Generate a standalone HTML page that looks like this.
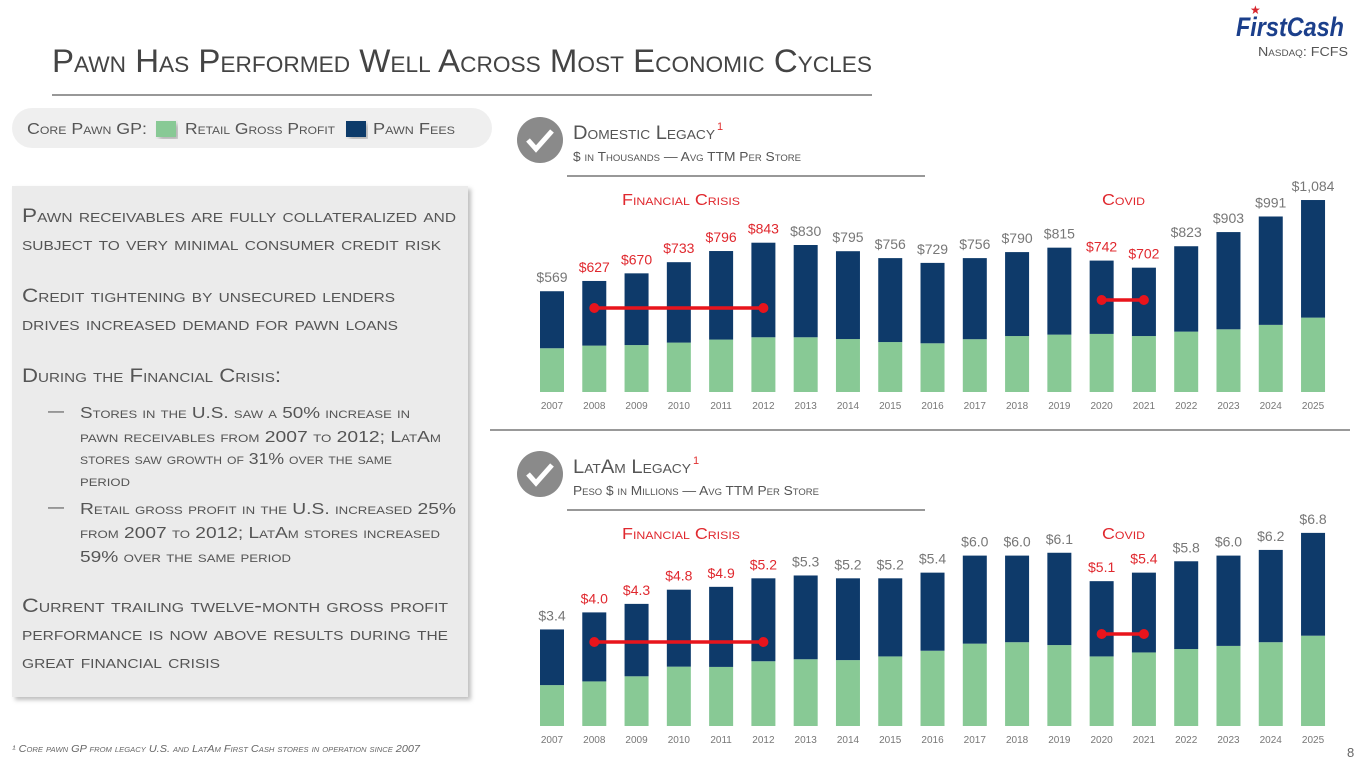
<!DOCTYPE html>
<html><head><meta charset="utf-8">
<style>
html,body{margin:0;padding:0;background:#fff;}
svg{display:block;font-family:"Liberation Sans",sans-serif;}
.sc{font-variant:small-caps;}
</style></head>
<body>
<svg id="s" width="1365" height="768" viewBox="0 0 1365 768" xmlns="http://www.w3.org/2000/svg">
<defs>
<filter id="sh" x="-5%" y="-5%" width="115%" height="115%"><feDropShadow dx="3" dy="3" stdDeviation="2" flood-color="#000" flood-opacity="0.25"/></filter>
</defs>
<text class="sc" x="52" y="72" font-size="32" fill="#444" textLength="820" lengthAdjust="spacingAndGlyphs">Pawn Has Performed Well Across Most Economic Cycles</text>
<line x1="52" y1="95" x2="872" y2="95" stroke="#777" stroke-width="1.5"/>
<g>
<text x="1236" y="36" font-size="27" font-weight="bold" font-style="italic" fill="#1b3f8b" textLength="108" lengthAdjust="spacingAndGlyphs">FirstCash</text>
<text x="1250" y="14" font-size="12" fill="#d7262e">★</text>
<text class="sc" x="1258" y="56" font-size="13" fill="#555" textLength="90" lengthAdjust="spacingAndGlyphs">Nasdaq: FCFS</text>
</g>
<g>
<rect x="12" y="108" width="480" height="40" rx="20" fill="#efefef"/>
<text class="sc" x="27" y="134" font-size="16" fill="#555" textLength="120" lengthAdjust="spacingAndGlyphs">Core Pawn GP:</text>
<rect x="156" y="121" width="20" height="16" fill="#88c995" filter="url(#sh)"/>
<text class="sc" x="185" y="134" font-size="16" fill="#555" textLength="150" lengthAdjust="spacingAndGlyphs">Retail Gross Profit</text>
<rect x="346" y="121" width="20" height="16" fill="#0e3a6a" filter="url(#sh)"/>
<text class="sc" x="373" y="134" font-size="16" fill="#555" textLength="82" lengthAdjust="spacingAndGlyphs">Pawn Fees</text>
</g>
<g class="sc" fill="#555">
<rect x="12" y="186" width="456" height="511" fill="#ebebeb" filter="url(#sh)"/>
<text x="22" y="222" font-size="19" textLength="434" lengthAdjust="spacingAndGlyphs">Pawn receivables are fully collateralized and</text>
<text x="22" y="250" font-size="19" textLength="419" lengthAdjust="spacingAndGlyphs">subject to very minimal consumer credit risk</text>
<text x="22" y="302" font-size="19" textLength="373" lengthAdjust="spacingAndGlyphs">Credit tightening by unsecured lenders</text>
<text x="22" y="330" font-size="19" textLength="376" lengthAdjust="spacingAndGlyphs">drives increased demand for pawn loans</text>
<text x="22" y="382" font-size="19" textLength="259" lengthAdjust="spacingAndGlyphs">During the Financial Crisis:</text>
<text x="48" y="416" font-size="16">—</text>
<text x="80" y="418" font-size="16" textLength="330" lengthAdjust="spacingAndGlyphs">Stores in the U.S. saw a 50% increase in</text>
<text x="80" y="442" font-size="16" textLength="361" lengthAdjust="spacingAndGlyphs">pawn receivables from 2007 to 2012; LatAm</text>
<text x="80" y="464" font-size="16" textLength="312" lengthAdjust="spacingAndGlyphs">stores saw growth of 31% over the same</text>
<text x="80" y="486" font-size="16" textLength="50" lengthAdjust="spacingAndGlyphs">period</text>
<text x="48" y="512" font-size="16">—</text>
<text x="80" y="514" font-size="16" textLength="376" lengthAdjust="spacingAndGlyphs">Retail gross profit in the U.S. increased 25%</text>
<text x="80" y="538" font-size="16" textLength="360" lengthAdjust="spacingAndGlyphs">from 2007 to 2012; LatAm stores increased</text>
<text x="80" y="562" font-size="16" textLength="211" lengthAdjust="spacingAndGlyphs">59% over the same period</text>
<text x="22" y="612" font-size="19" textLength="426" lengthAdjust="spacingAndGlyphs">Current trailing twelve-month gross profit</text>
<text x="22" y="640" font-size="19" textLength="426" lengthAdjust="spacingAndGlyphs">performance is now above results during the</text>
<text x="22" y="668" font-size="19" textLength="198" lengthAdjust="spacingAndGlyphs">great financial crisis</text>
</g>
<g>
<circle cx="540" cy="140" r="23" fill="#8a8a8a"/>
<path d="M528 140 l8 9 l16 -18" stroke="#fff" stroke-width="5" fill="none"/>
<text class="sc" x="573" y="139" font-size="19" fill="#555" textLength="142" lengthAdjust="spacingAndGlyphs">Domestic Legacy</text>
<text x="717" y="130" font-size="11" fill="#e03030">1</text>
<text class="sc" x="573" y="161" font-size="13" fill="#555" textLength="228" lengthAdjust="spacingAndGlyphs">$ in Thousands — Avg TTM Per Store</text>
<line x1="567" y1="176" x2="925" y2="176" stroke="#777" stroke-width="1.5"/>
</g>
<line x1="490" y1="430" x2="1350" y2="430" stroke="#999" stroke-width="2"/>
<g>
<circle cx="540" cy="474" r="23" fill="#8a8a8a"/>
<path d="M528 474 l8 9 l16 -18" stroke="#fff" stroke-width="5" fill="none"/>
<text class="sc" x="573" y="473" font-size="19" fill="#555" textLength="118" lengthAdjust="spacingAndGlyphs">LatAm Legacy</text>
<text x="693" y="464" font-size="11" fill="#e03030">1</text>
<text class="sc" x="573" y="495" font-size="13" fill="#555" textLength="246" lengthAdjust="spacingAndGlyphs">Peso $ in Millions — Avg TTM Per Store</text>
<line x1="567" y1="510" x2="925" y2="510" stroke="#777" stroke-width="1.5"/>
</g>
<g id="chart1"></g>
<g id="chart2"></g>
<text class="sc" x="12" y="752" font-size="10" font-style="italic" fill="#666" textLength="408" lengthAdjust="spacingAndGlyphs">¹ Core pawn GP from legacy U.S. and LatAm First Cash stores in operation since 2007</text>
<text x="1347" y="757" font-size="13" fill="#666">8</text>
</svg>
<script>
const years = ["2007","2008","2009","2010","2011","2012","2013","2014","2015","2016","2017","2018","2019","2020","2021","2022","2023","2024","2025"];
const domTotal = [569,627,670,733,796,843,830,795,756,729,756,790,815,742,702,823,903,991,1084];
const domRetail = [247,262,265,279,296,309,309,299,282,275,298,316,324,328,316,341,354,379,420];
const domLabels = ["$569","$627","$670","$733","$796","$843","$830","$795","$756","$729","$756","$790","$815","$742","$702","$823","$903","$991","$1,084"];
const latTotal = [3.4,4.0,4.3,4.8,4.9,5.2,5.3,5.2,5.2,5.4,6.0,6.0,6.1,5.1,5.4,5.8,6.0,6.2,6.8];
const latRetail = [1.44,1.57,1.75,2.09,2.08,2.28,2.35,2.32,2.45,2.65,2.90,2.95,2.85,2.45,2.59,2.71,2.82,2.95,3.18];
const latLabels = ["$3.4","$4.0","$4.3","$4.8","$4.9","$5.2","$5.3","$5.2","$5.2","$5.4","$6.0","$6.0","$6.1","$5.1","$5.4","$5.8","$6.0","$6.2","$6.8"];
const crisisYears = ["2008","2009","2010","2011","2012"];
const covidYears = ["2020","2021"];
const NS="http://www.w3.org/2000/svg";
function mk(tag, attrs, parent, txt){const e=document.createElementNS(NS,tag);for(const k in attrs)e.setAttribute(k,attrs[k]);if(txt!==undefined)e.textContent=txt;parent.appendChild(e);return e;}
function draw(g, total, retail, labels, base, pxPerUnit, crisisY, covidY, headerY){
  const x = i => 552 + i*42.28;
  const y = v => base - v*pxPerUnit;
  const bw = 24;
  years.forEach((yr,i)=>{
    const r = mk('rect',{x:x(i)-bw/2,y:y(retail[i]),width:bw,height:base-y(retail[i]),fill:'#88c995'},g);
    
    
    const f = mk('rect',{x:x(i)-bw/2,y:y(total[i]),width:bw,height:y(retail[i])-y(total[i]),fill:'#0e3a6a'},g);
    
    
    const red = crisisYears.includes(yr)||covidYears.includes(yr);
    const t = mk('text',{x:x(i),y:y(total[i])-9,'font-size':14,'text-anchor':'middle',fill:red?'#e0282e':'#777'},g,labels[i]);
    
    
    const yl = mk('text',{x:x(i),y:base+17,'font-size':10,'text-anchor':'middle',fill:'#777'},g,yr);
    
    
  });
  function period(list, ly, label, lx, lw){
    const i0=years.indexOf(list[0]), i1=years.indexOf(list[list.length-1]);
    const ln = mk('line',{x1:x(i0),y1:ly,x2:x(i1),y2:ly,stroke:'#e8141c','stroke-width':3.5},g);
    
    
    mk('circle',{cx:x(i0),cy:ly,r:5,fill:'#e8141c'},g);
    mk('circle',{cx:x(i1),cy:ly,r:5,fill:'#e8141c'},g);
    const pl = mk('text',{x:lx,y:headerY,'font-size':16,fill:'#e0282e',class:'sc',textLength:lw,lengthAdjust:'spacingAndGlyphs'},g,label);
    
    
  }
  period(crisisYears, crisisY, 'Financial Crisis', 622, 118);
  period(covidYears, covidY, 'Covid', 1102, 43);
}
draw(document.getElementById('chart1'), domTotal, domRetail, domLabels, 392, 0.1771, 308, 300, 205);
draw(document.getElementById('chart2'), latTotal, latRetail, latLabels, 726, 28.4, 642, 634, 539);
</script>
</body></html>
